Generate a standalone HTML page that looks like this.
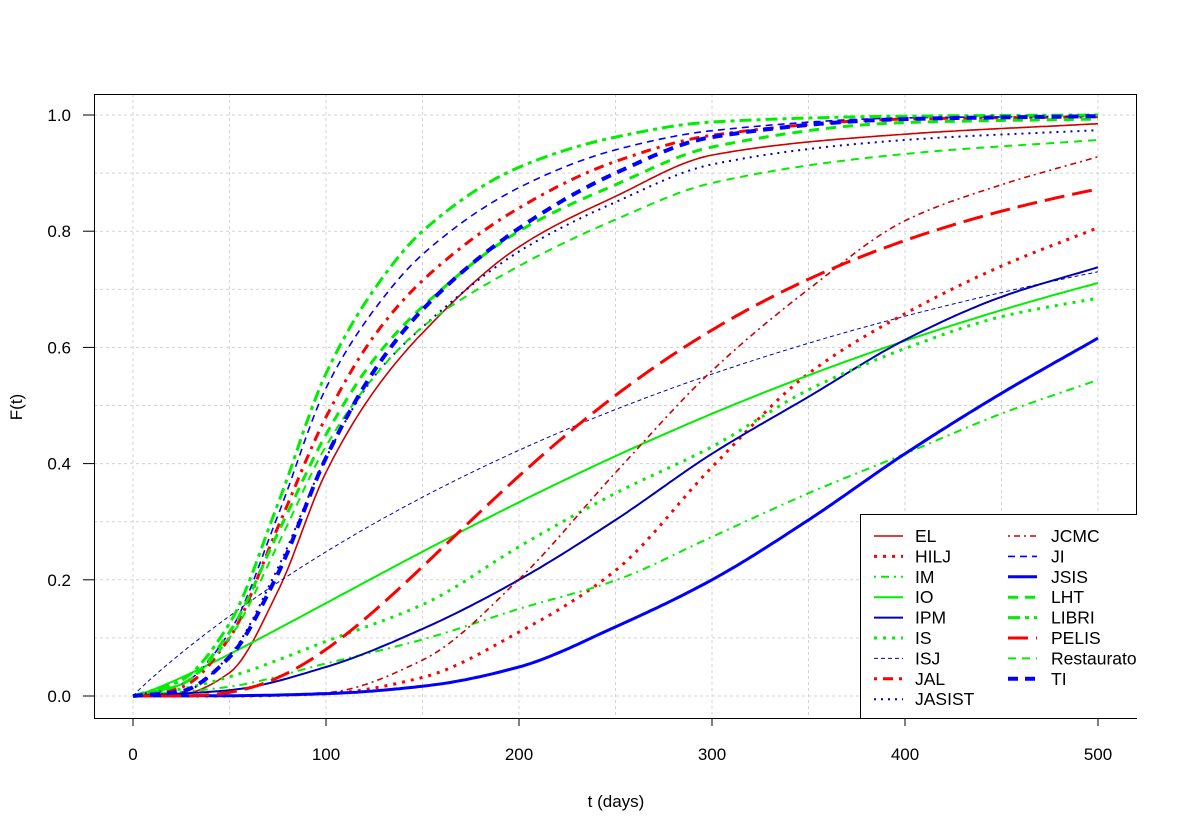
<!DOCTYPE html>
<html><head><meta charset="utf-8"><style>
html,body{margin:0;padding:0;background:#fff;}
svg{display:block;font-family:"Liberation Sans",Arial,sans-serif;}
</style></head><body>
<svg id="s" width="1185" height="837" viewBox="0 0 1185 837" xmlns="http://www.w3.org/2000/svg">
<defs><clipPath id="pc"><rect x="94" y="94" width="1043" height="625"/></clipPath></defs>
<rect width="1185" height="837" fill="#fff"/>
<g id="grid" stroke="#d3d3d3" stroke-width="1" stroke-dasharray="3 3"></g>
<g id="curves" clip-path="url(#pc)" fill="none"></g>
<rect x="94.5" y="94.5" width="1042" height="624" fill="none" stroke="#000" stroke-width="1"/>
<g id="axes" stroke="#000" stroke-width="1"></g>
<g id="labels" font-size="17" fill="#000"></g>
<text x="616" y="807" font-size="17" text-anchor="middle">t (days)</text>
<text x="22" y="407" font-size="17" text-anchor="middle" transform="rotate(-90 22 407)">F(t)</text>
<g id="legend" clip-path="url(#pc)"></g>
</svg>
<script>
var NS="http://www.w3.org/2000/svg";
function X(t){return 133+1.93*t;}
function Y(f){return 696-581*f;}
function el(tag,attrs,parent,txt){var e=document.createElementNS(NS,tag);for(var k in attrs)e.setAttribute(k,attrs[k]);if(txt!==undefined)e.textContent=txt;parent.appendChild(e);return e;}
var G=document.getElementById('grid'),A=document.getElementById('axes'),L=document.getElementById('labels'),C=document.getElementById('curves'),LG=document.getElementById('legend');
for(var t=-50;t<=550;t+=50){var x=X(t);if(x>94&&x<1137)el('line',{x1:x,y1:94,x2:x,y2:719},G);}
for(var f=-0.1;f<=1.15;f+=0.1){var y=Y(f);if(y>94&&y<719)el('line',{x1:94,y1:y,x2:1137,y2:y},G);}
for(var t=0;t<=500;t+=100){var x=X(t);el('line',{x1:x,y1:719,x2:x,y2:726},A);el('text',{x:x,y:760,'text-anchor':'middle'},L,String(t));}
for(var i=0;i<=5;i++){var f=i*0.2,y=Y(f);el('line',{x1:94,y1:y,x2:83,y2:y},A);el('text',{x:71,y:y+6,'text-anchor':'end'},L,f.toFixed(1));}
function PHI(z){var t=1/(1+0.2316419*Math.abs(z));var d=0.3989423*Math.exp(-z*z/2);var p=d*t*(0.3193815+t*(-0.3565638+t*(1.781478+t*(-1.821256+t*1.330274))));return z>0?1-p:p;}
function weib(l,k){return function(t){return t<=0?0:1-Math.exp(-Math.pow(t/l,k));};}
function lognorm(m,s){return function(t){return t<=0?0:PHI((Math.log(t)-m)/s);};}
function mono(pts){var n=pts.length,xs=pts.map(p=>p[0]),ys=pts.map(p=>p[1]),d=[],m=[];
for(var i=0;i<n-1;i++)d.push((ys[i+1]-ys[i])/(xs[i+1]-xs[i]));
m[0]=d[0];m[n-1]=d[n-2];for(var i=1;i<n-1;i++){if(d[i-1]*d[i]<=0)m[i]=0;else{var w1=2*(xs[i+1]-xs[i])+(xs[i]-xs[i-1]),w2=(xs[i+1]-xs[i])+2*(xs[i]-xs[i-1]);m[i]=(w1+w2)/(w1/d[i-1]+w2/d[i]);}}
return function(t){var i=0;while(i<n-2&&t>xs[i+1])i++;var h=xs[i+1]-xs[i],s=(t-xs[i])/h,s2=s*s,s3=s2*s;
return (2*s3-3*s2+1)*ys[i]+(s3-2*s2+s)*h*m[i]+(-2*s3+3*s2)*ys[i+1]+(s3-s2)*h*m[i+1];};}
var T=[0,25,50,75,100,125,150,200,250,300,400,500];
function up(v){return mono(T.map(function(t,i){return [t,v[i]];}));}
var R="#ff0000",R3="#cd0000",GR="#00ee00",B="#0000ff",NV="#0000b4";
var jc=lognorm(Math.log(282),0.41);
var curves=[
{n:'EL',c:R3,w:1.6,d:'',f:up([0,0.003,0.04,0.18,0.385,0.525,0.625,0.773,0.86,0.931,0.967,0.985])},
{n:'HILJ',c:R,w:3,d:'3 6',f:mono([[0,0],[50,0],[100,0.004],[150,0.032],[200,0.11],[250,0.216],[300,0.394],[350,0.555],[400,0.658],[450,0.74],[500,0.806]])},
{n:'IM',c:GR,w:2,d:'2 5 8 5',f:mono([[0,0],[50,0.016],[100,0.056],[153,0.1],[200,0.15],[250,0.199],[300,0.274],[350,0.349],[400,0.417],[450,0.486],[500,0.544]])},
{n:'IO',c:GR,w:2,d:'',f:weib(419,1.22)},
{n:'IPM',c:NV,w:2,d:'',f:mono([[0,0],[50,0.01],[100,0.05],[153,0.12],[200,0.2],[250,0.303],[300,0.417],[350,0.515],[400,0.613],[450,0.687],[500,0.738]])},
{n:'IS',c:GR,w:3,d:'3 6',f:mono([[0,0],[25,0.012],[50,0.033],[100,0.094],[153,0.162],[200,0.257],[250,0.349],[300,0.429],[350,0.527],[400,0.598],[450,0.653],[500,0.685]])},
{n:'ISJ',c:NV,w:1,d:'4 3',f:weib(376,0.947)},
{n:'JAL',c:R,w:3,d:'3 6 10 6',f:up([0,0.015,0.1,0.29,0.48,0.62,0.715,0.84,0.92,0.965,0.993,0.997])},
{n:'JASIST',c:NV,w:2,d:'2 5',f:up([0,0.006,0.07,0.22,0.41,0.55,0.635,0.765,0.85,0.915,0.957,0.974])},
{n:'JCMC',c:R3,w:1.6,d:'2 4 6 4',f:mono([[0,0],[50,jc(50)],[100,jc(100)],[150,jc(150)],[200,jc(200)],[250,jc(250)],[300,jc(300)],[350,0.70],[400,0.818],[450,0.88],[500,0.928]])},
{n:'JI',c:B,w:1.6,d:'7 5',f:up([0,0.02,0.11,0.31,0.53,0.665,0.76,0.875,0.94,0.973,0.995,0.998])},
{n:'JSIS',c:B,w:3,d:'',f:mono([[0,0],[50,0.0005],[100,0.004],[153,0.018],[200,0.05],[250,0.119],[300,0.2],[350,0.303],[400,0.417],[450,0.521],[500,0.616]])},
{n:'LHT',c:GR,w:3,d:'10 7',f:up([0,0.02,0.11,0.28,0.45,0.58,0.67,0.80,0.88,0.945,0.987,0.993])},
{n:'LIBRI',c:GR,w:3,d:'12 5 4 5',f:up([0,0.027,0.125,0.33,0.555,0.70,0.80,0.91,0.962,0.988,0.998,1])},
{n:'PELIS',c:R,w:3,d:'20 8',f:lognorm(5.494,0.633)},
{n:'Restaurator',c:GR,w:2,d:'8 6',f:up([0,0.02,0.1,0.26,0.43,0.55,0.635,0.74,0.82,0.883,0.933,0.957])},
{n:'TI',c:B,w:4,d:'10 7',f:up([0,0.008,0.067,0.21,0.41,0.56,0.665,0.805,0.90,0.962,0.993,0.998])}
];
curves.forEach(function(c){var p='';for(var t=0;t<=500;t+=2){var v=c.f(t);p+=(t?'L':'M')+X(t).toFixed(1)+' '+Y(v).toFixed(1);}
var a={d:p,stroke:c.c,'stroke-width':c.w};if(c.d)a['stroke-dasharray']=c.d;el('path',a,C);});
el('rect',{x:860.5,y:514.5,width:290,height:204,fill:'#fff',stroke:'#000','stroke-width':1},LG);
curves.forEach(function(c,i){var col=i<9?0:1,row=i<9?i:i-9;var y=536+row*20.4;var x0=col?1008:874;
var a={x1:x0,y1:y,x2:x0+29,y2:y,stroke:c.c,'stroke-width':c.w};if(c.d)a['stroke-dasharray']=c.d;el('line',a,LG);
el('text',{x:col?1051:915,y:y+6,'font-size':17.5,fill:'#000'},LG,c.n);});
</script>
</body></html>
